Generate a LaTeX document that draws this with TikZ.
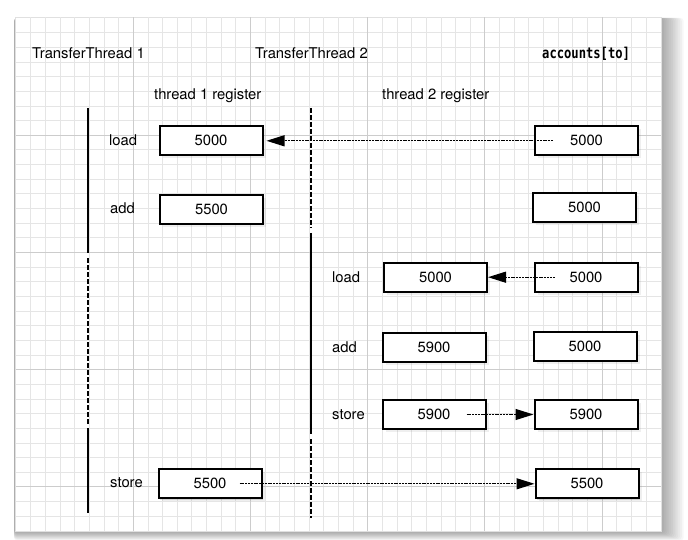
\documentclass[tikz,border=0pt]{standalone}
\usepackage{fontspec}
\setmainfont{TeX Gyre Heros}
\newfontfamily\codefont{DejaVu Sans Mono}[FakeStretch=0.81]
\usetikzlibrary{arrows.meta, shadows}
\tikzset{
  >=Triangle,
  txt/.style    = {font=\fontsize{14.8}{17}\selectfont},
  minorline/.style = {draw=black!10, line width=0.7pt},
  majorline/.style = {draw=black!20, line width=1pt},
  cell/.style   = {txt, draw, line width=2pt, fill=white,
                   minimum width=103pt, minimum height=29pt, inner sep=0pt,
                   drop shadow={shadow xshift=1.2pt, shadow yshift=-1.2pt, opacity=.25},
                   drop shadow={shadow xshift=3pt, shadow yshift=-3pt, opacity=.12}},
  reg/.style    = {cell},
  mem/.style    = {cell},
  op/.style     = {txt, anchor=base west, inner sep=0pt},
  hdr/.style    = {txt, anchor=base west, inner sep=0pt},
  life/.style   = {line width=1.6pt},
  waiting/.style = {life, dash pattern=on 5pt off 2pt},
  xfer/.style   = {-{Triangle[length=18pt, width=11pt]}, line width=1.2pt,
                   dash pattern=on 2pt off 0.8pt},
}

\begin{document}
\begin{tikzpicture}[x=1pt, y=-1pt]
  \useasboundingbox (0,0) rectangle (688,540);

  % paper with shadow and grid
  \foreach \k in {1,...,12}
    \fill[black, opacity=0.03, rounded corners=3pt] (14,18) rectangle (662+\k*1.8, 532+\k*0.7);
  \fill[white, draw=black!12, line width=0.6pt] (15,17) rectangle (661,531);
  \foreach \i in {1,...,43}
    \draw[minorline] (16+\i*14.65, 17.5) -- (16+\i*14.65, 530.5);
  \foreach \j in {1,...,34}
    \draw[minorline] (15.5, 18+\j*14.65) -- (660.5, 18+\j*14.65);
  \foreach \i in {1,...,5}
    \draw[majorline] (16+\i*117.2, 17.5) -- (16+\i*117.2, 530.5);
  \foreach \j in {1,...,4}
    \draw[majorline] (15.5, 18+\j*117.2) -- (660.5, 18+\j*117.2);

  \node[hdr] (tt1) at (32,59)  {TransferThread 1};
  \node[hdr] (tt2) at (255,59) {TransferThread 2};
  \node[hdr, font=\codefont\bfseries\fontsize{15}{17}\selectfont] (acc) at (542,59) {accounts[to]};
  \node[hdr] (reg1) at (154,100) {thread 1 register};
  \node[hdr] (reg2) at (382,100) {thread 2 register};

  % lifelines
  \coordinate (t1a) at (88,108);  \coordinate (t1b) at (88,253);
  \coordinate (t1c) at (88,258);  \coordinate (t1d) at (88,425);
  \coordinate (t1e) at (88,428);  \coordinate (t1f) at (88,513);
  \coordinate (t2a) at (311,108); \coordinate (t2b) at (311,228);
  \coordinate (t2c) at (311,233); \coordinate (t2d) at (311,434);
  \coordinate (t2e) at (311,439); \coordinate (t2f) at (311,518);
  \draw[life]    (t1a) -- (t1b);
  \draw[waiting] (t1c) -- (t1d);
  \draw[life]    (t1e) -- (t1f);
  \draw[waiting] (t2a) -- (t2b);
  \draw[life]    (t2c) -- (t2d);
  \draw[waiting] (t2e) -- (t2f);

  % registers and memory
  \node[reg] (r1) at (211,140.8)   {5000};
  \node[reg] (r2) at (211.5,209.5) {5500};
  \node[reg] (r6) at (210,483.8)   {5500};
  \node[reg] (s3) at (435.5,277.2) {5000};
  \node[reg] (s4) at (434,347)     {5900};
  \node[reg] (s5) at (434,414.5)   {5900};
  \node[mem] (m1) at (586.5,140.8) {5000};
  \node[mem] (m2) at (584.5,207.5) {5000};
  \node[mem] (m3) at (586,277.2)   {5000};
  \node[mem] (m4) at (585,346.5)   {5000};
  \node[mem] (m5) at (586,414.5)   {5900};
  \node[mem] (m6) at (587,483.8)   {5500};

  \node[op] (op1) at (109,146) {load};
  \node[op] (op2) at (110,214) {add};
  \node[op] (op6) at (110,487) {store};
  \node[op] (op3) at (332,282) {load};
  \node[op] (op4) at (332,352) {add};
  \node[op] (op5) at (332,419) {store};

  \draw[xfer, shorten >=3pt] ([xshift=19pt]m1.west) -- (r1.east);
  \draw[xfer] ([xshift=21pt]m3.west) -- (s3.east);
  \draw[xfer] ([xshift=-20pt]s5.east) -- (m5.west);
  \draw[xfer] ([xshift=-23pt]r6.east) -- (m6.west);
\end{tikzpicture}
\end{document}
